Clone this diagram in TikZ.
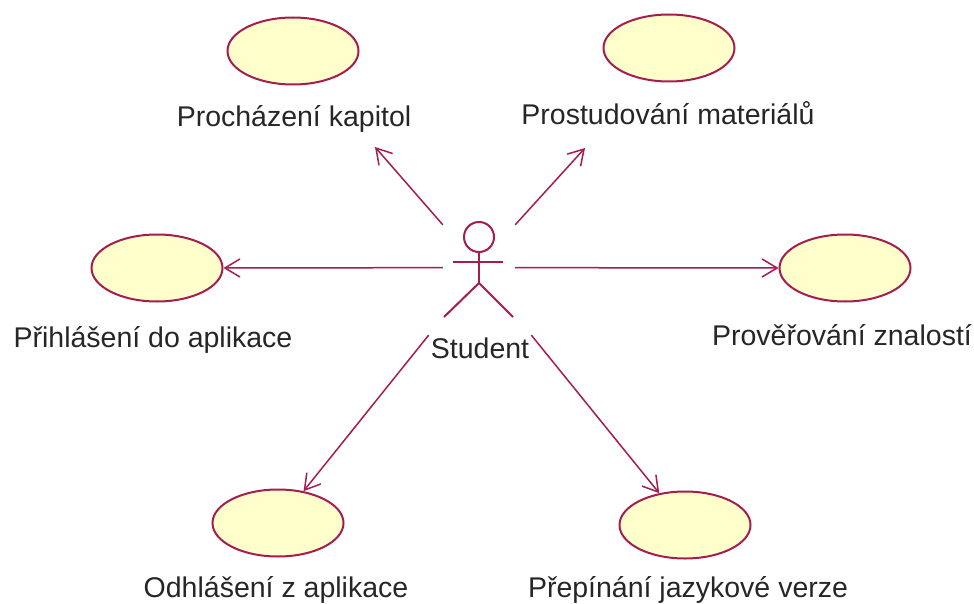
\documentclass[tikz,border=0pt]{standalone}
\usepackage{fontspec}
\setmainfont{Liberation Sans}
\usepackage{tikz}
\usetikzlibrary{arrows.meta}
\usetikzlibrary{shapes,positioning,calc}

\definecolor{umlline}{RGB}{165,28,80}
\definecolor{umlfill}{RGB}{255,255,204}

\tikzset{
  usecase/.style={ellipse, draw=umlline, fill=umlfill, line width=2pt,
    minimum width=131pt, minimum height=67pt, inner sep=0pt},
  uclabel/.style={anchor=base, text=black!85, inner sep=2pt,
    font=\fontsize{28.5}{34}\selectfont},
  assoc/.style={draw=umlline, line width=1.5pt,
    -{Straight Barb[length=15pt,width=18pt]}},
  actorline/.style={draw=umlline, line width=2pt}
}

\begin{document}
\begin{tikzpicture}[x=1pt, y=-1pt]
  \useasboundingbox (0,0) rectangle (974,604);

  % use cases
  \node[usecase] (kapitoly)   at (293,51)  {};
  \node[usecase] (materialy)  at (669,48)  {};
  \node[usecase] (prihlaseni) at (157,268) {};
  \node[usecase] (provereni)  at (845,268) {};
  \node[usecase] (odhlaseni)  at (278,523) {};
  \node[usecase] (prepinani)  at (685,525) {};

  \node[uclabel] (kapitoly-txt)   at (294,127) {Procházení kapitol};
  \node[uclabel] (materialy-txt)  at (668,125) {Prostudování materiálů};
  \node[uclabel] (prihlaseni-txt) at (153,347) {Přihlášení do aplikace};
  \node[uclabel] (provereni-txt)  at (842,345) {Prověřování znalostí};
  \node[uclabel] (odhlaseni-txt)  at (276,597) {Odhlášení z aplikace};
  \node[uclabel] (prepinani-txt)  at (688,597) {Přepínání jazykové verze};

  % actor
  \node[minimum width=72pt, minimum height=116pt, inner sep=0pt] (student) at (479,283) {};
  \begin{scope}[shift={(student.center)}]
    \draw[actorline] (0,-46) circle (15);
    \draw[actorline] (-26,-21) -- (24,-21);
    \draw[actorline] (0,-31) -- (0,0);
    \draw[actorline] (-35,34) -- (0,0) -- (34,34);
  \end{scope}
  \node[uclabel] (student-txt) at (480,358) {Student};

  % associations
  \coordinate (kapitoly-in)  at (375,147);
  \coordinate (materialy-in) at (585,148);
  \draw[assoc] (student.north west) -- (kapitoly-in);
  \draw[assoc] (student.north east) -- (materialy-in);
  \draw[assoc] (student.157) -- (prihlaseni.east);
  \draw[assoc] (student.23) -- (provereni.west);
  \draw[assoc] (student-txt.north west) -- (odhlaseni);
  \draw[assoc] (student-txt.north east) -- (prepinani);
\end{tikzpicture}
\end{document}
